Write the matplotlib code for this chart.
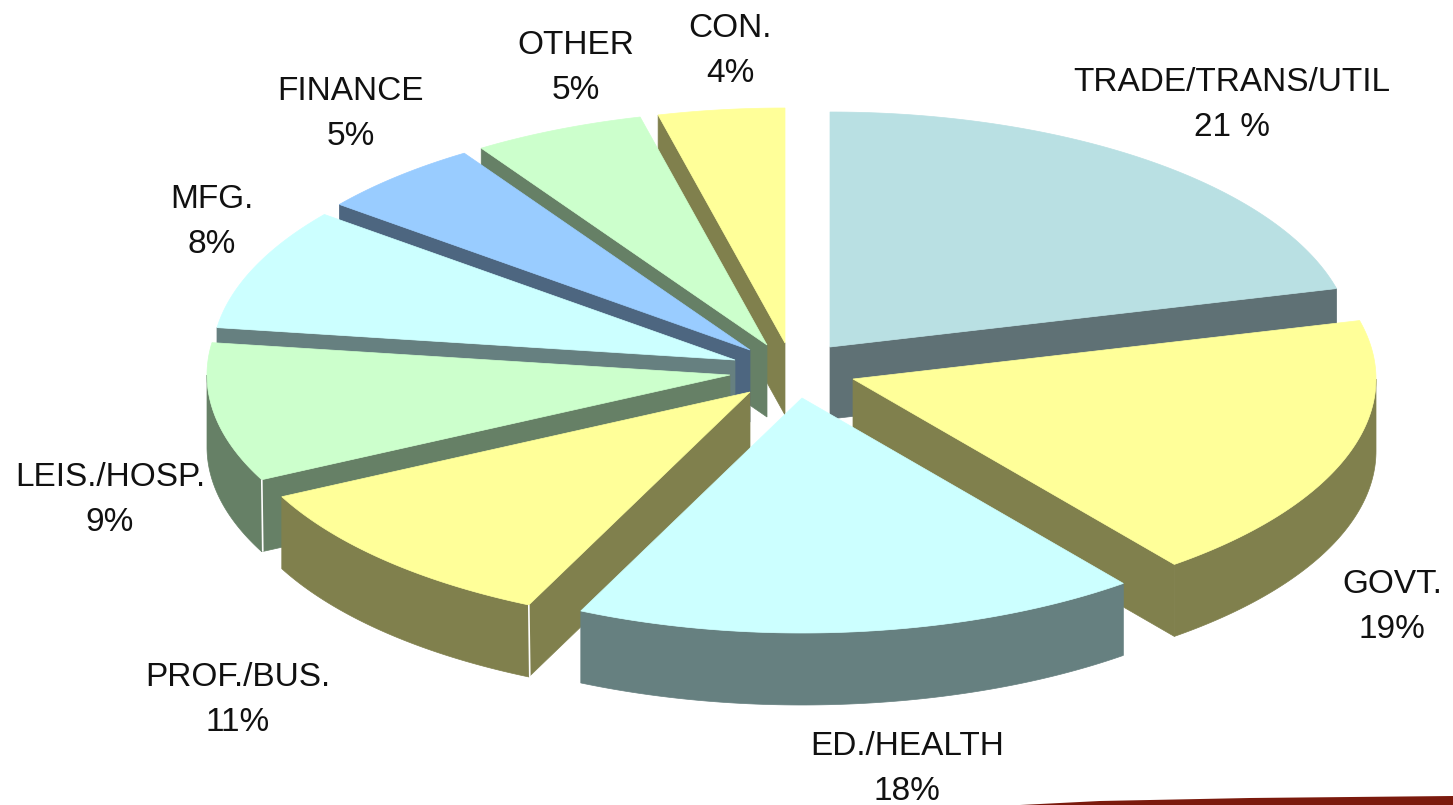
import numpy as np
import matplotlib
matplotlib.use("Agg")
import matplotlib.pyplot as plt
from matplotlib.patches import Polygon

sectors = ["TRADE/TRANS/UTIL", "GOVT.", "ED./HEALTH", "PROF./BUS.", "LEIS./HOSP.",
           "MFG.", "FINANCE", "OTHER", "CON."]
shares = [21.0, 18.47, 17.48, 10.7, 9.55, 8.43, 5.17, 5.3, 3.9]
pct_labels = ["21 %", "19%", "18%", "11%", "9%", "8%", "5%", "5%", "4%"]

top_colors = ["#B9E0E3", "#FFFF99", "#CCFFFF", "#FFFF99", "#CCFFCC",
              "#CCFFFF", "#99CCFF", "#CCFFCC", "#FFFF99"]
wall_colors = ["#5F7175", "#80804D", "#668080", "#80804D", "#668066",
               "#668080", "#4D6680", "#668066", "#80804D"]

# exploded slice tips in pixels
tips = [(830, 347), (853, 379), (802, 398), (750, 392), (730, 375),
        (735, 360), (750, 350), (767, 345), (785, 343)]
label_pos = [(1232, 105), (1392, 607), (907, 769), (238, 700), (110, 500),
             (212, 222), (351, 114), (576, 68), (730, 51)]
draw_order = [8, 7, 6, 5, 4, 0, 1, 3, 2]

RX, RY, DEPTH = 523, 235, 72


def rim(tip, deg):
    """Point(s) on the slice's outer edge, angle clockwise from the top."""
    a = np.radians(deg)
    return tip[0] + RX * np.sin(a), tip[1] - RY * np.cos(a)


def wall(ax, xs, ys, color):
    pts = list(zip(xs, ys)) + list(zip(xs[::-1], [y + DEPTH for y in ys[::-1]]))
    ax.add_patch(Polygon(pts, closed=True, fc=color, ec=color, lw=0.5))


def draw_slice(ax, i, start, end):
    tip = tips[i]
    color = wall_colors[i]
    # the cut face that looks towards the viewer
    if end < 180:
        x, y = rim(tip, end)
        wall(ax, [tip[0], x], [tip[1], y], color)
    if start > 180:
        x, y = rim(tip, start)
        wall(ax, [tip[0], x], [tip[1], y], color)
    # outer rim, front half only
    lo, hi = max(start, 90), min(end, 270)
    if hi > lo:
        x, y = rim(tip, np.linspace(lo, hi, 80))
        wall(ax, list(x), list(y), color)
    x, y = rim(tip, np.linspace(start, end, 120))
    pts = [tip] + list(zip(x, y))
    ax.add_patch(Polygon(pts, closed=True, fc=top_colors[i], ec=top_colors[i], lw=0.5))
    # thin highlight on two of the corners
    if sectors[i] in ("PROF./BUS.", "LEIS./HOSP."):
        x0, y0 = rim(tip, start)
        ax.plot([x0, x0 + 1], [y0, y0 + DEPTH], color="white", lw=1.2, solid_capstyle="butt")


def main():
    fig = plt.figure(figsize=(14.53, 8.05), dpi=100)
    ax = fig.add_axes([0, 0, 1, 1])
    ax.set_xlim(0, 1453)
    ax.set_ylim(805, 0)
    ax.axis("off")

    edges = np.concatenate([[0], np.cumsum(shares)]) * 3.6
    for i in draw_order:
        draw_slice(ax, i, edges[i], edges[i + 1])

    for name, pct, (x, y) in zip(sectors, pct_labels, label_pos):
        ax.text(x, y, name + "\n" + pct, ha="center", va="center", fontsize=24,
                family="Liberation Sans", color="#111111", linespacing=1.55)

    # red strip of the slide footer
    ax.add_patch(Polygon([(1020, 805), (1100, 801), (1250, 798), (1453, 796), (1453, 805)],
                         closed=True, fc="#7B1A0D", ec="none"))

    fig.savefig("out.png", dpi=100, facecolor="white")


if __name__ == "__main__":
    main()
